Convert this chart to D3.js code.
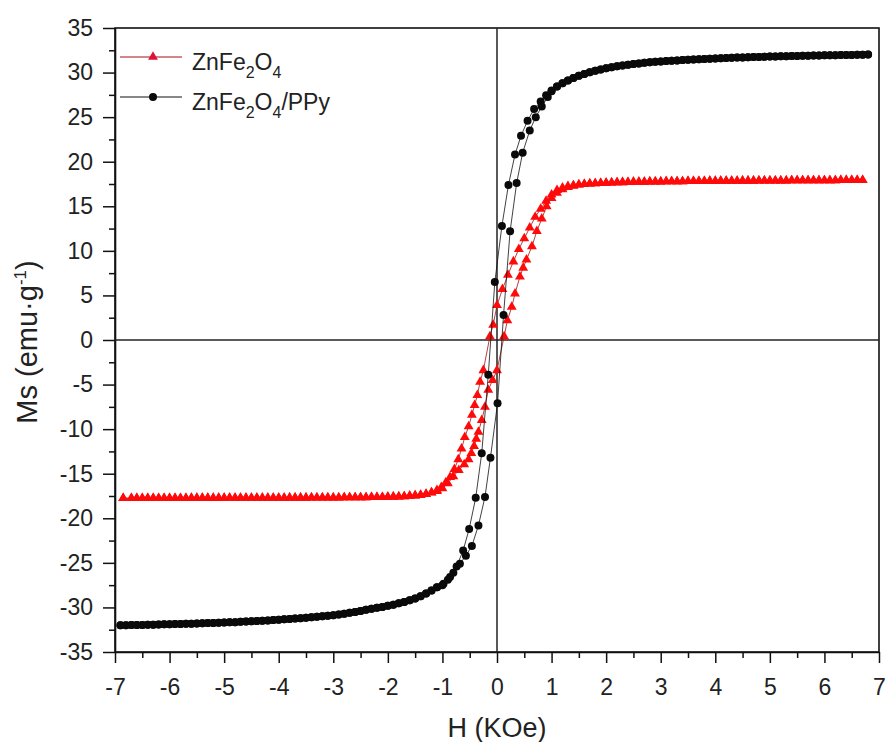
<!DOCTYPE html>
<html lang="en">
<head>
<meta charset="UTF-8">
<title>M-H loops</title>
<script src="https://d3js.org/d3.v7.min.js"></script>
<style>
  body { margin: 0; background: #fff; }
  svg { font-family: "Liberation Sans", Arial, sans-serif; }
</style>
</head>
<body>
<div id="chart"></div>
<script>
const W = 888, H = 742;
const margin = {top: 28, right: 9, bottom: 90, left: 115};

const xTicks = [-7, -6, -5, -4, -3, -2, -1, 0, 1, 2, 3, 4, 5, 6, 7];
const yTicks = [-35, -30, -25, -20, -15, -10, -5, 0, 5, 10, 15, 20, 25, 30, 35];
const seriesNames = ["ZnFe2O4", "ZnFe2O4/PPy"];

// ZnFe2O4: [H (kOe), Ms (emu/g)]
// saturated part, shared by both branches
const znUpperSat = [
  [6.7,17.93],[6.6,17.93],[6.5,17.92],[6.4,17.92],[6.3,17.92],[6.2,17.91],[6.1,17.91],[6.0,17.91],
  [5.9,17.9],[5.8,17.9],[5.7,17.9],[5.6,17.89],[5.5,17.89],[5.4,17.89],[5.3,17.88],[5.2,17.88],
  [5.1,17.88],[5.0,17.87],[4.9,17.87],[4.8,17.87],[4.7,17.86],[4.6,17.86],[4.5,17.86],[4.4,17.85],
  [4.3,17.85],[4.2,17.84],[4.1,17.84],[4.0,17.83],[3.9,17.83],[3.8,17.82],[3.7,17.82],[3.6,17.81],
  [3.5,17.81],[3.4,17.8],[3.3,17.79],[3.2,17.79],[3.1,17.78],[3.0,17.77],[2.9,17.76],[2.8,17.75],
  [2.7,17.74],[2.6,17.73],[2.5,17.72],[2.4,17.7],[2.3,17.69],[2.2,17.67],[2.1,17.65],[2.0,17.63],
  [1.9,17.6],[1.8,17.57],[1.7,17.53],[1.6,17.48],[1.5,17.42]
];
const znLowerSat = [
  [-1.5,-17.45],[-1.6,-17.5],[-1.7,-17.54],[-1.8,-17.57],[-1.9,-17.59],[-2.0,-17.61],[-2.1,-17.62],
  [-2.2,-17.63],[-2.3,-17.64],[-2.4,-17.65],[-2.5,-17.66],[-2.6,-17.66],[-2.7,-17.67],[-2.8,-17.67],
  [-2.9,-17.68],[-3.0,-17.68],[-3.1,-17.68],[-3.2,-17.69],[-3.3,-17.69],[-3.4,-17.69],[-3.5,-17.7],
  [-3.6,-17.7],[-3.7,-17.7],[-3.8,-17.7],[-3.9,-17.71],[-4.0,-17.71],[-4.1,-17.71],[-4.2,-17.71],
  [-4.3,-17.71],[-4.4,-17.72],[-4.5,-17.72],[-4.6,-17.72],[-4.7,-17.72],[-4.8,-17.72],[-4.9,-17.72],
  [-5.0,-17.73],[-5.1,-17.73],[-5.2,-17.73],[-5.3,-17.73],[-5.4,-17.73],[-5.5,-17.73],[-5.6,-17.73],
  [-5.7,-17.74],[-5.8,-17.74],[-5.9,-17.74],[-6.0,-17.74],[-6.1,-17.74],[-6.2,-17.74],[-6.3,-17.74],
  [-6.4,-17.75],[-6.5,-17.75],[-6.6,-17.75],[-6.7,-17.75],[-6.85,-17.75]
];
// descending branch (field going down)
const znDownLoop = [
  [1.4,17.35],[1.3,17.25],[1.2,17.1],[1.1,16.8],[1.0,16.3],[0.9,15.6],[0.8,14.7],[0.7,13.8],
  [0.6,12.6],[0.5,11.4],[0.4,10.2],[0.3,8.8],[0.2,7.3],[0.1,5.7],[0.0,3.9],[-0.07,1.7],[-0.13,0.4],
  [-0.25,-3.4],[-0.31,-4.7],[-0.36,-6.2],[-0.41,-7.3],[-0.46,-8.4],[-0.52,-9.7],[-0.59,-10.9],
  [-0.65,-12.2],[-0.71,-13.4],[-0.78,-14.5],[-0.86,-15.4],[-0.94,-16.0],[-1.02,-16.5],[-1.1,-16.85],
  [-1.2,-17.1],[-1.3,-17.28],[-1.4,-17.38]
];
// ascending branch (field going up)
const znUpLoop = [
  [-1.4,-17.4],[-1.3,-17.3],[-1.2,-17.12],[-1.1,-16.95],[-1.0,-16.65],[-0.9,-16.1],[-0.8,-15.3],
  [-0.7,-14.6],[-0.6,-13.95],[-0.52,-13.4],[-0.47,-12.7],[-0.42,-11.9],[-0.38,-11.1],[-0.34,-10.3],
  [-0.28,-9.0],[-0.22,-7.5],[-0.16,-5.6],[-0.08,-4.5],[0.0,-3.4],[0.13,0.4],[0.19,2.2],[0.27,3.7],
  [0.33,5.2],[0.42,7.1],[0.48,8.1],[0.54,9.0],[0.64,10.5],[0.73,12.2],[0.82,13.6],[0.91,15.0],
  [1.0,15.9],[1.1,16.5],[1.2,16.9],[1.3,17.15],[1.4,17.3]
];

// ZnFe2O4/PPy
const ppyUpperSat = [
  [6.8,32.02],[6.7,32.01],[6.6,31.99],[6.5,31.98],[6.4,31.97],[6.3,31.96],[6.2,31.95],[6.1,31.94],
  [6.0,31.93],[5.9,31.92],[5.8,31.91],[5.7,31.9],[5.6,31.88],[5.5,31.87],[5.4,31.86],[5.3,31.84],
  [5.2,31.83],[5.1,31.81],[5.0,31.8],[4.9,31.78],[4.8,31.76],[4.7,31.74],[4.6,31.72],[4.5,31.7],
  [4.4,31.68],[4.3,31.65],[4.2,31.63],[4.1,31.6],[4.0,31.58],[3.9,31.55],[3.8,31.52],[3.7,31.49],
  [3.6,31.46],[3.5,31.43],[3.4,31.4],[3.3,31.36],[3.2,31.33],[3.1,31.29],[3.0,31.25],[2.9,31.2],
  [2.8,31.15],[2.7,31.09],[2.6,31.03],[2.5,30.96],[2.4,30.88],[2.3,30.79],[2.2,30.7],[2.1,30.6],
  [2.0,30.48],[1.9,30.35],[1.8,30.2],[1.7,30.03],[1.6,29.85],[1.5,29.64],[1.4,29.4],[1.3,29.12],
  [1.2,28.8],[1.1,28.43]
];
const ppyLowerSat = [
  [-1.1,-27.75],[-1.2,-28.1],[-1.3,-28.45],[-1.4,-28.75],[-1.5,-29.0],[-1.6,-29.2],[-1.7,-29.38],
  [-1.8,-29.54],[-1.9,-29.69],[-2.0,-29.82],[-2.1,-29.94],[-2.2,-30.05],[-2.3,-30.16],[-2.4,-30.27],
  [-2.5,-30.4],[-2.6,-30.5],[-2.7,-30.6],[-2.8,-30.7],[-2.9,-30.8],[-3.0,-30.88],[-3.1,-30.94],
  [-3.2,-31.0],[-3.3,-31.05],[-3.4,-31.1],[-3.5,-31.15],[-3.6,-31.2],[-3.7,-31.25],[-3.8,-31.3],
  [-3.9,-31.34],[-4.0,-31.38],[-4.1,-31.42],[-4.2,-31.46],[-4.3,-31.5],[-4.4,-31.53],[-4.5,-31.56],
  [-4.6,-31.59],[-4.7,-31.62],[-4.8,-31.65],[-4.9,-31.67],[-5.0,-31.7],[-5.1,-31.72],[-5.2,-31.74],
  [-5.3,-31.76],[-5.4,-31.78],[-5.5,-31.8],[-5.6,-31.82],[-5.7,-31.84],[-5.8,-31.86],[-5.9,-31.87],
  [-6.0,-31.89],[-6.1,-31.9],[-6.2,-31.92],[-6.3,-31.93],[-6.4,-31.94],[-6.5,-31.96],[-6.6,-31.97],
  [-6.7,-31.98],[-6.8,-31.99],[-6.9,-32.0]
];
const ppyDownLoop = [
  [1.0,28.0],[0.9,27.45],[0.8,26.75],[0.68,25.9],[0.56,24.6],[0.44,22.9],[0.33,20.8],[0.21,17.4],
  [0.09,12.8],[-0.04,6.5],[-0.16,-3.9],[-0.28,-12.7],[-0.39,-17.7],[-0.51,-21.2],[-0.62,-23.6],
  [-0.74,-25.4],[-0.86,-26.6],[-0.98,-27.35]
];
const ppyUpLoop = [
  [-1.0,-27.5],[-0.9,-26.9],[-0.8,-26.1],[-0.68,-25.1],[-0.57,-24.2],[-0.46,-23.1],[-0.34,-20.8],
  [-0.22,-17.6],[-0.12,-13.2],[0.01,-7.1],[0.12,2.8],[0.24,12.2],[0.36,17.6],[0.47,21.0],
  [0.6,23.5],[0.71,25.0],[0.82,26.2],[0.93,27.25],[1.0,27.9]
];

// build the two branches of each loop
function branches(upperSat, lowerSat, downLoop, upLoop) {
  const down = upperSat.concat(downLoop, lowerSat);
  const up = lowerSat.slice().reverse().concat(upLoop, upperSat.slice().reverse());
  return [down, up];
}
const znBranches = branches(znUpperSat, znLowerSat, znDownLoop, znUpLoop);
const ppyBranches = branches(ppyUpperSat, ppyLowerSat, ppyDownLoop, ppyUpLoop);

const svg = d3.select("#chart").append("svg")
  .attr("width", W).attr("height", H);

const x = d3.scaleLinear().domain([-7, 7]).range([margin.left, W - margin.right]);
const y = d3.scaleLinear().domain([-35, 35]).range([H - margin.bottom, margin.top]);

// minor ticks
const xMinor = xTicks.slice(0, -1).map(d => d + 0.5);
const yMinor = yTicks.slice(0, -1).map(d => d + 2.5);

svg.append("g")
  .attr("transform", `translate(0,${y(-35)})`)
  .call(d3.axisBottom(x).tickValues(xMinor).tickSize(6).tickSizeOuter(0).tickFormat(""))
  .call(g => g.select(".domain").remove());
svg.append("g")
  .attr("transform", `translate(${x(-7)},0)`)
  .call(d3.axisLeft(y).tickValues(yMinor).tickSize(6).tickSizeOuter(0).tickFormat(""))
  .call(g => g.select(".domain").remove());

const xAxis = svg.append("g")
  .attr("transform", `translate(0,${y(-35)})`)
  .call(d3.axisBottom(x).tickValues(xTicks).tickSize(11).tickSizeOuter(0)
    .tickPadding(16).tickFormat(d => String(d)));
const yAxis = svg.append("g")
  .attr("transform", `translate(${x(-7)},0)`)
  .call(d3.axisLeft(y).tickValues(yTicks).tickSize(12).tickSizeOuter(0)
    .tickPadding(10).tickFormat(d => String(d)));

svg.selectAll(".tick line").attr("stroke", "#111").attr("stroke-width", 1.5);
svg.selectAll(".domain").attr("stroke", "#111").attr("stroke-width", 1.6);
svg.selectAll(".tick text").attr("fill", "#222").style("font-size", "23px")
  .style("font-family", "'Liberation Sans', Arial, sans-serif");

// frame
svg.append("rect")
  .attr("x", x(-7)).attr("y", y(35))
  .attr("width", x(7) - x(-7)).attr("height", y(-35) - y(35))
  .attr("fill", "none").attr("stroke", "#111").attr("stroke-width", 1.6);

// zero lines
svg.append("line")
  .attr("x1", x(0)).attr("x2", x(0)).attr("y1", y(35)).attr("y2", y(-35))
  .attr("stroke", "#222").attr("stroke-width", 1.5);
svg.append("line")
  .attr("x1", x(-7)).attr("x2", x(7)).attr("y1", y(0)).attr("y2", y(0))
  .attr("stroke", "#222").attr("stroke-width", 1.5);

const line = d3.line().x(d => x(d[0])).y(d => y(d[1]));
const tri = d3.symbol(d3.symbolTriangle, 42);
const redColor = "#ff0a0a";

// ZnFe2O4 (drawn first)
znBranches.forEach(b => {
  svg.append("path").datum(b).attr("d", line)
    .attr("fill", "none").attr("stroke", "#a01010").attr("stroke-width", 0.8);
});
znBranches.forEach(b => {
  svg.append("g").selectAll("path").data(b).join("path")
    .attr("d", tri)
    .attr("transform", d => `translate(${x(d[0])},${y(d[1])})`)
    .attr("fill", redColor);
});

// ZnFe2O4/PPy
ppyBranches.forEach(b => {
  svg.append("path").datum(b).attr("d", line)
    .attr("fill", "none").attr("stroke", "#111").attr("stroke-width", 0.8);
});
ppyBranches.forEach(b => {
  svg.append("g").selectAll("circle").data(b).join("circle")
    .attr("cx", d => x(d[0])).attr("cy", d => y(d[1]))
    .attr("r", 4).attr("fill", "#0a0a0a");
});

// axis titles
svg.append("text")
  .attr("x", x(0)).attr("y", 737)
  .attr("text-anchor", "middle")
  .style("font-size", "27px").attr("fill", "#222")
  .text("H (KOe)");

const yTitle = svg.append("text")
  .attr("transform", `translate(37,${y(0) + 2}) rotate(-90)`)
  .attr("text-anchor", "middle")
  .style("font-size", "29px").attr("fill", "#222");
yTitle.append("tspan").text("Ms (emu·g");
yTitle.append("tspan").attr("dy", -11).style("font-size", "17px").text("-1");
yTitle.append("tspan").attr("dy", 11).text(")");

// legend
const legend = svg.append("g");
const rows = [
  {name: seriesNames[0], y: 57, color: redColor, lineColor: "#a01010", shape: "tri"},
  {name: seriesNames[1], y: 97, color: "#0a0a0a", lineColor: "#111", shape: "circle"}
];
rows.forEach(r => {
  legend.append("line")
    .attr("x1", 120).attr("x2", 182).attr("y1", r.y).attr("y2", r.y)
    .attr("stroke", r.lineColor).attr("stroke-width", 1);
  if (r.shape === "tri") {
    legend.append("path").attr("d", tri)
      .attr("transform", `translate(153,${r.y})`).attr("fill", "#e0103c");
  } else {
    legend.append("circle").attr("cx", 153).attr("cy", r.y).attr("r", 4).attr("fill", r.color);
  }
  const t = legend.append("text").attr("x", 192).attr("y", r.y + 13)
    .style("font-size", "23px").attr("fill", "#222");
  t.append("tspan").text("ZnFe");
  t.append("tspan").attr("dy", 8).style("font-size", "16px").text("2");
  t.append("tspan").attr("dy", -8).text("O");
  t.append("tspan").attr("dy", 8).style("font-size", "16px").text("4");
  if (r.name.endsWith("/PPy")) t.append("tspan").attr("dy", -8).text("/PPy");
});
</script>
</body>
</html>
